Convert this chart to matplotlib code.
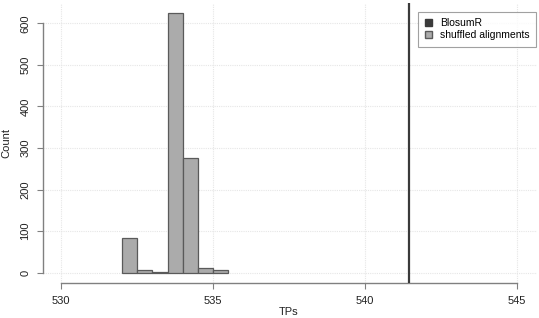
import matplotlib
matplotlib.use("Agg")
import matplotlib.pyplot as plt
from matplotlib.patches import Patch

plt.rcParams["font.family"] = ["Liberation Sans", "DejaVu Sans"]

# histogram of shuffled alignments (bin edges and counts)
bin_edges = [532.0, 532.5, 533.0, 533.5, 534.0, 534.5, 535.0, 535.5]
counts = [83, 6, 1, 624, 275, 11, 6]
# observed value for BlosumR
blosum_tps = 541.43

x_ticks = [530, 535, 540, 545]
y_ticks = [0, 100, 200, 300, 400, 500, 600]
legend_labels = ["BlosumR", "shuffled alignments"]

W, H = 539, 318
fig = plt.figure(figsize=(W / 100, H / 100), dpi=100)

# plot region in pixels
left, right, top, bottom = 43, 537, 3, 283
ax = fig.add_axes([left / W, 1 - bottom / H, (right - left) / W, (bottom - top) / H])

ax.set_xlim(529.4, 545.65)
ax.set_ylim(-25, 649)

# grid
for y in y_ticks:
    ax.axhline(y, color="#e6e6e6", lw=0.8, ls=(0, (1, 1)), zorder=0)
for x in x_ticks:
    ax.axvline(x, color="#e6e6e6", lw=0.8, ls=(0, (1, 1)), zorder=0)

widths = [b - a for a, b in zip(bin_edges[:-1], bin_edges[1:])]
ax.bar(bin_edges[:-1], counts, width=widths, align="edge",
       color="#ababab", edgecolor="#5a5a5a", linewidth=0.9, zorder=2)

ax.axvline(blosum_tps, color="#3a3a3a", lw=1.6, zorder=3)

# R-style axes
for s in ["top", "right"]:
    ax.spines[s].set_visible(False)
ax.spines["left"].set_bounds(0, 600)
ax.spines["bottom"].set_bounds(530, 545)
for s in ["left", "bottom"]:
    ax.spines[s].set_color("#808080")
    ax.spines[s].set_linewidth(1.0)

ax.set_xticks(x_ticks)
ax.set_yticks(y_ticks)
ax.set_yticklabels([str(v) for v in y_ticks], rotation=90, va="center")
ax.tick_params(axis="both", direction="out", length=4.5, width=0.8,
               color="#808080", labelsize=8, labelcolor="#222222", pad=4.5)

fig.text(6 / W, 1 - 143 / H, "Count", rotation=90, ha="center", va="center",
         fontsize=8, color="#222222")
fig.text(289 / W, 1 - 317 / H, "TPs", ha="center", va="bottom",
         fontsize=8, color="#222222")

handles = [Patch(facecolor="#3a3a3a", edgecolor="#3a3a3a"),
           Patch(facecolor="#ababab", edgecolor="#5a5a5a")]
leg = ax.legend(handles, legend_labels, loc="upper right",
                bbox_to_anchor=(536 / W, 1 - 12 / H), bbox_transform=fig.transFigure,
                fontsize=7.5, frameon=True, fancybox=False, handlelength=0.7,
                handleheight=0.7, handletextpad=0.8, borderpad=0.6,
                labelspacing=0.2, borderaxespad=0)
leg.get_frame().set_edgecolor("#8a8a8a")
leg.get_frame().set_linewidth(0.8)

fig.savefig("out.png", dpi=100)
